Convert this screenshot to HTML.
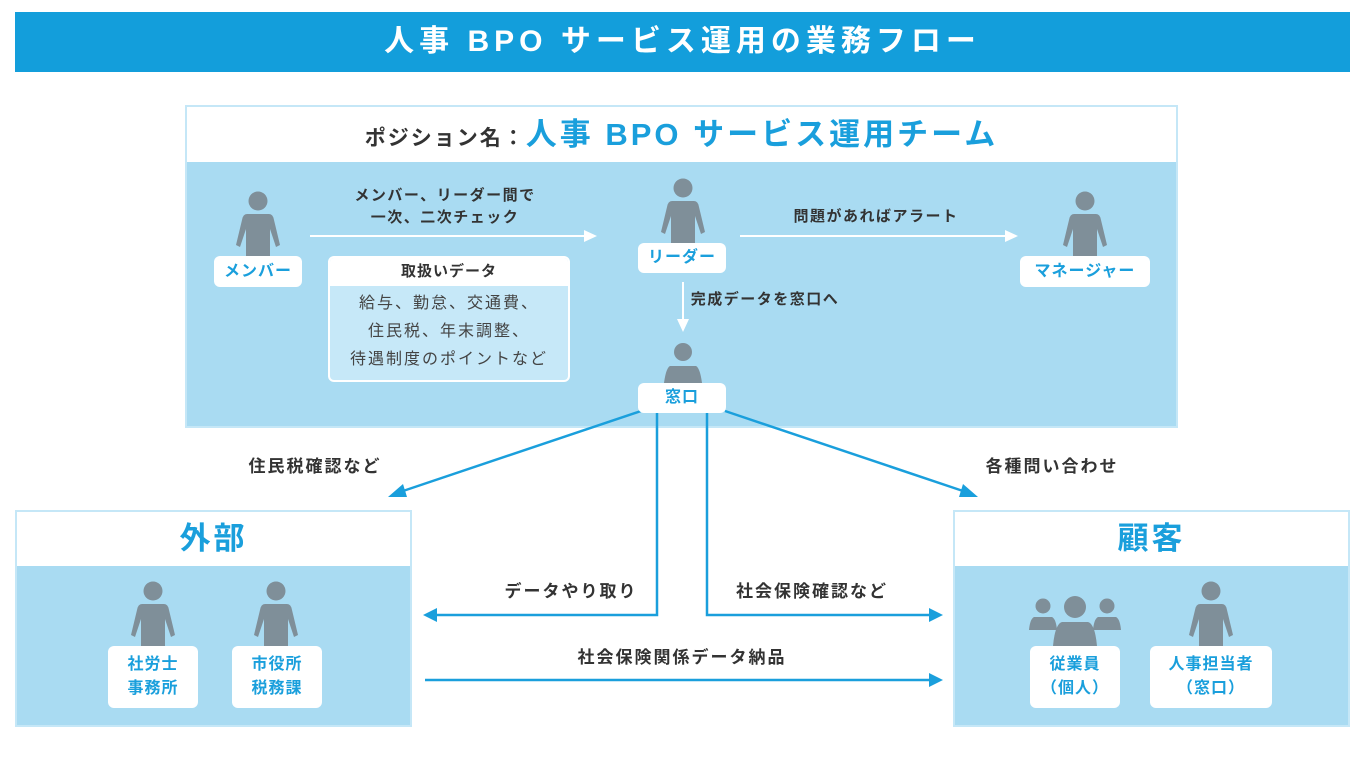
<!DOCTYPE html>
<html><head><meta charset="utf-8"><style>
body{margin:0;width:1365px;height:780px;background:#fff;position:relative;overflow:hidden;font-family:"Liberation Sans","Noto Sans CJK JP",sans-serif;font-weight:bold;}
.a{position:absolute;}
.t{position:absolute;white-space:nowrap;color:#333;font-size:15px;letter-spacing:1.5px;text-align:center;transform:translateX(-50%);line-height:22px;}
.lbl{position:absolute;background:#fff;border-radius:6px;color:#1a9fdc;font-size:16px;letter-spacing:1px;text-align:center;display:flex;align-items:center;justify-content:center;line-height:24px;}
</style></head><body>
<div class="a" style="left:15px;top:12px;width:1335px;height:60px;background:#139edb;color:#fff;font-size:30px;text-align:center;line-height:60px;letter-spacing:5px;">人事 BPO サービス運用の業務フロー</div>

<div class="a" style="left:185px;top:105px;width:993px;height:323px;background:#a9dbf2;border:2px solid #c5e7f7;box-sizing:border-box;"></div>
<div class="a" style="left:187px;top:107px;width:989px;height:55px;background:#fff;"></div>
<div class="a" style="left:187px;top:107px;width:989px;height:55px;text-align:center;line-height:55px;white-space:nowrap;"><span style="font-size:21px;color:#333;letter-spacing:2px;">ポジション名：</span><span style="font-size:31px;color:#1a9fdc;letter-spacing:3px;">人事 BPO サービス運用チーム</span></div>

<div class="a" style="left:15px;top:510px;width:397px;height:217px;background:#a9dbf2;border:2px solid #c5e7f7;box-sizing:border-box;"></div>
<div class="a" style="left:17px;top:512px;width:393px;height:54px;background:#fff;color:#1a9fdc;font-size:31px;letter-spacing:3px;text-align:center;line-height:54px;">外部</div>
<div class="a" style="left:953px;top:510px;width:397px;height:217px;background:#a9dbf2;border:2px solid #c5e7f7;box-sizing:border-box;"></div>
<div class="a" style="left:955px;top:512px;width:393px;height:54px;background:#fff;color:#1a9fdc;font-size:31px;letter-spacing:3px;text-align:center;line-height:54px;">顧客</div>

<div class="a" style="left:328px;top:256px;width:242px;height:126px;background:#c6e8f8;border:2px solid #fff;border-radius:6px;box-sizing:border-box;overflow:hidden;">
<div style="background:#fff;height:28px;line-height:28px;text-align:center;color:#333;font-size:15px;letter-spacing:1px;">取扱いデータ</div>
<div style="text-align:center;color:#444;font-size:16px;letter-spacing:2px;line-height:28px;padding-top:4px;font-weight:normal;white-space:nowrap;">給与、勤怠、交通費、<br>住民税、年末調整、<br>待遇制度のポイントなど</div>
</div>

<svg class="a" style="left:0;top:0" width="1365" height="780">
<defs>
<g id="p" fill="#7f8f99"><circle cx="0" cy="0" r="9.5"/><path d="M-11,13 Q-15,13 -16,19 L-22,44 L-18,46 L-12,28 L-12,55 L12,55 L12,28 L18,46 L22,44 L16,19 Q15,13 11,13 Z"/></g>
</defs>
<use href="#p" x="258" y="201"/>
<use href="#p" x="683" y="188"/>
<use href="#p" x="1085" y="201"/>
<g fill="#7f8f99"><circle cx="683" cy="352" r="9"/><path d="M670,366 Q666,368 664,383 L702,383 Q700,368 696,366 Z"/></g>
<use href="#p" x="153" y="591"/>
<use href="#p" x="276" y="591"/>
<use href="#p" x="1211" y="591"/>
<g fill="#7f8f99"><circle cx="1075" cy="607" r="11"/><path d="M1062,622 Q1055,624 1053,646 L1097,646 Q1095,624 1088,622 Z"/>
<circle cx="1043" cy="606" r="7.5"/><path d="M1034,617 Q1030,619 1029,630 L1057,630 Q1056,619 1052,617 Z"/>
<circle cx="1107" cy="606" r="7.5"/><path d="M1098,617 Q1094,619 1093,630 L1121,630 Q1120,619 1116,617 Z"/></g>

<g stroke="#fff" stroke-width="2" fill="#fff">
<line x1="310" y1="236" x2="585" y2="236"/><path d="M597,236 L584,230 L584,242 Z" stroke="none"/>
<line x1="740" y1="236" x2="1006" y2="236"/><path d="M1018,236 L1005,230 L1005,242 Z" stroke="none"/>
<line x1="683" y1="282" x2="683" y2="320"/><path d="M683,332 L677,319 L689,319 Z" stroke="none"/>
</g>
<g stroke="#1a9fdc" stroke-width="2.5" fill="none">
<line x1="641" y1="411" x2="400" y2="492"/>
<line x1="725" y1="411" x2="966" y2="492"/>
<polyline points="657,412 657,615 436,615"/>
<polyline points="707,412 707,615 930,615"/>
<line x1="425" y1="680" x2="930" y2="680"/>
</g>
<g fill="#1a9fdc">
<path d="M388,497 L403,484 L407,497 Z"/>
<path d="M978,497 L963,484 L959,497 Z"/>
<path d="M423,615 L437,608 L437,622 Z"/>
<path d="M943,615 L929,608 L929,622 Z"/>
<path d="M943,680 L929,673 L929,687 Z"/>
</g>
</svg>

<div class="lbl" style="left:214px;top:256px;width:88px;height:31px;">メンバー</div>
<div class="lbl" style="left:638px;top:243px;width:88px;height:30px;">リーダー</div>
<div class="lbl" style="left:1020px;top:256px;width:130px;height:31px;">マネージャー</div>
<div class="lbl" style="left:638px;top:383px;width:88px;height:30px;">窓口</div>
<div class="lbl" style="left:108px;top:646px;width:90px;height:62px;">社労士<br>事務所</div>
<div class="lbl" style="left:232px;top:646px;width:90px;height:62px;">市役所<br>税務課</div>
<div class="lbl" style="left:1030px;top:646px;width:90px;height:62px;">従業員<br>（個人）</div>
<div class="lbl" style="left:1150px;top:646px;width:122px;height:62px;">人事担当者<br>（窓口）</div>

<div class="t" style="left:445px;top:185px;">メンバー、リーダー間で<br>一次、二次チェック</div>
<div class="t" style="left:876px;top:206px;">問題があればアラート</div>
<div class="t" style="left:765px;top:289px;">完成データを窓口へ</div>
<div class="t" style="left:315px;top:456px;font-size:17px;letter-spacing:2px;">住民税確認など</div>
<div class="t" style="left:1052px;top:456px;font-size:17px;letter-spacing:2px;">各種問い合わせ</div>
<div class="t" style="left:571px;top:581px;font-size:17px;letter-spacing:2px;">データやり取り</div>
<div class="t" style="left:812px;top:581px;font-size:17px;letter-spacing:2px;">社会保険確認など</div>
<div class="t" style="left:682px;top:647px;font-size:17px;letter-spacing:2px;">社会保険関係データ納品</div>
</body></html>
